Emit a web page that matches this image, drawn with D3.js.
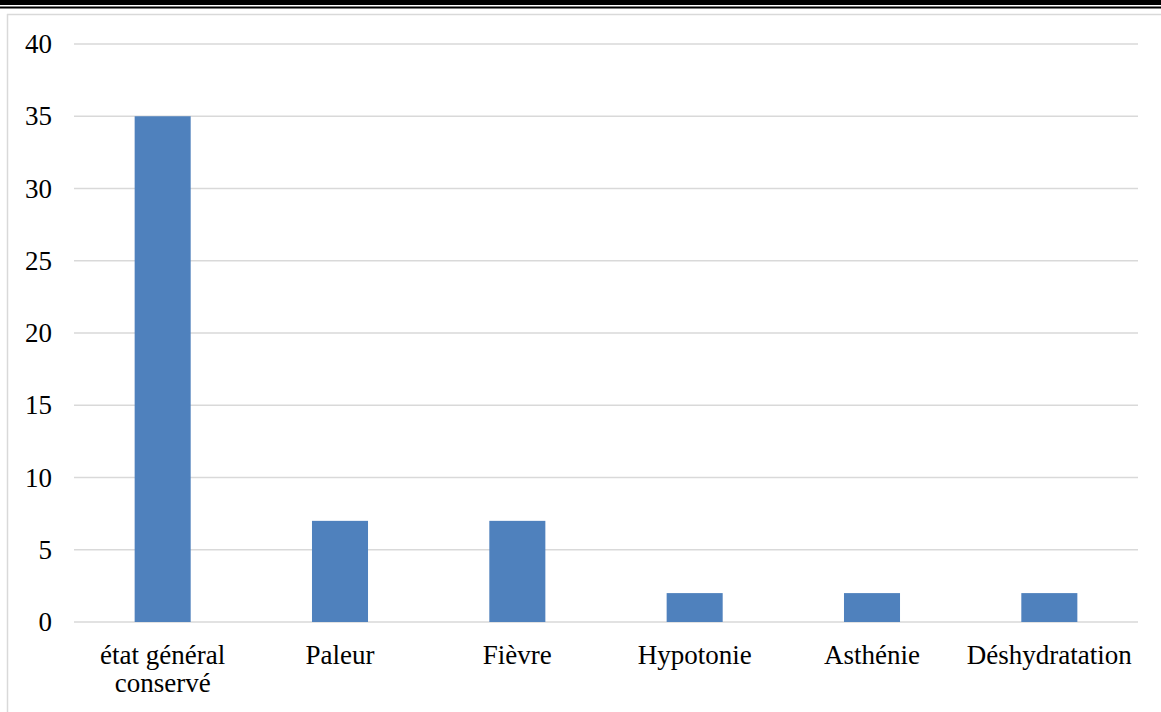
<!DOCTYPE html>
<html><head><meta charset="utf-8">
<script src="https://cdn.jsdelivr.net/npm/d3@7"></script>
<style>body{margin:0;background:#fff;}svg{display:block;}
text{font-family:"Liberation Serif","Times New Roman",serif;}</style>
</head><body>
<script>
const categories = ["état général conservé","Paleur","Fièvre","Hypotonie","Asthénie","Déshydratation"];
const values = [35,7,7,2,2,2];
const yTicks = [0,5,10,15,20,25,30,35,40];

const W=1161,H=712;
const svg=d3.select("body").append("svg").attr("width",W).attr("height",H);
// top double rule
svg.append("rect").attr("x",0).attr("y",0).attr("width",W).attr("height",5).attr("fill","#000");
svg.append("rect").attr("x",0).attr("y",6.5).attr("width",W).attr("height",2).attr("fill","#000");
// chart frame (top and left)
svg.append("line").attr("x1",7).attr("x2",W).attr("y1",14.5).attr("y2",14.5).attr("stroke","#d9d9d9").attr("stroke-width",1.5);
svg.append("line").attr("x1",7.5).attr("x2",7.5).attr("y1",14).attr("y2",H).attr("stroke","#d9d9d9").attr("stroke-width",1.5);

const x=d3.scaleBand().domain(categories).range([74,1138]).paddingInner(0.684).paddingOuter(0.342);
const y=d3.scaleLinear().domain([0,40]).range([622,44]);

const g=svg.append("g");
g.selectAll("line.grid").data(yTicks).join("line").attr("class","grid")
 .attr("x1",74).attr("x2",1138).attr("y1",d=>y(d)).attr("y2",d=>y(d))
 .attr("stroke","#d9d9d9").attr("stroke-width",1.5);

g.selectAll("rect.bar").data(values).join("rect").attr("class","bar")
 .attr("x",(d,i)=>x(categories[i])).attr("width",x.bandwidth())
 .attr("y",d=>y(d)).attr("height",d=>y(0)-y(d)).attr("fill","#4f81bd");

const yAxis=d3.axisLeft(y).tickValues(yTicks).tickSize(0).tickPadding(0);
const ya=svg.append("g").attr("transform","translate(52,0)").call(yAxis);
ya.select(".domain").remove();
ya.selectAll("text").attr("font-family",null).style("font-family",'"Liberation Serif","Times New Roman",serif').attr("font-size",27).attr("fill","#000").attr("dy","0.32em");

const labels=svg.append("g");
categories.forEach((c,i)=>{
  const cx=x(c)+x.bandwidth()/2;
  const lines = c==="état général conservé" ? ["état général","conservé"] : [c];
  lines.forEach((l,j)=>{
    labels.append("text").attr("x",cx).attr("y",664+j*28).attr("text-anchor","middle")
      .attr("font-size",27).attr("fill","#000").text(l);
  });
});
</script>
</body></html>
